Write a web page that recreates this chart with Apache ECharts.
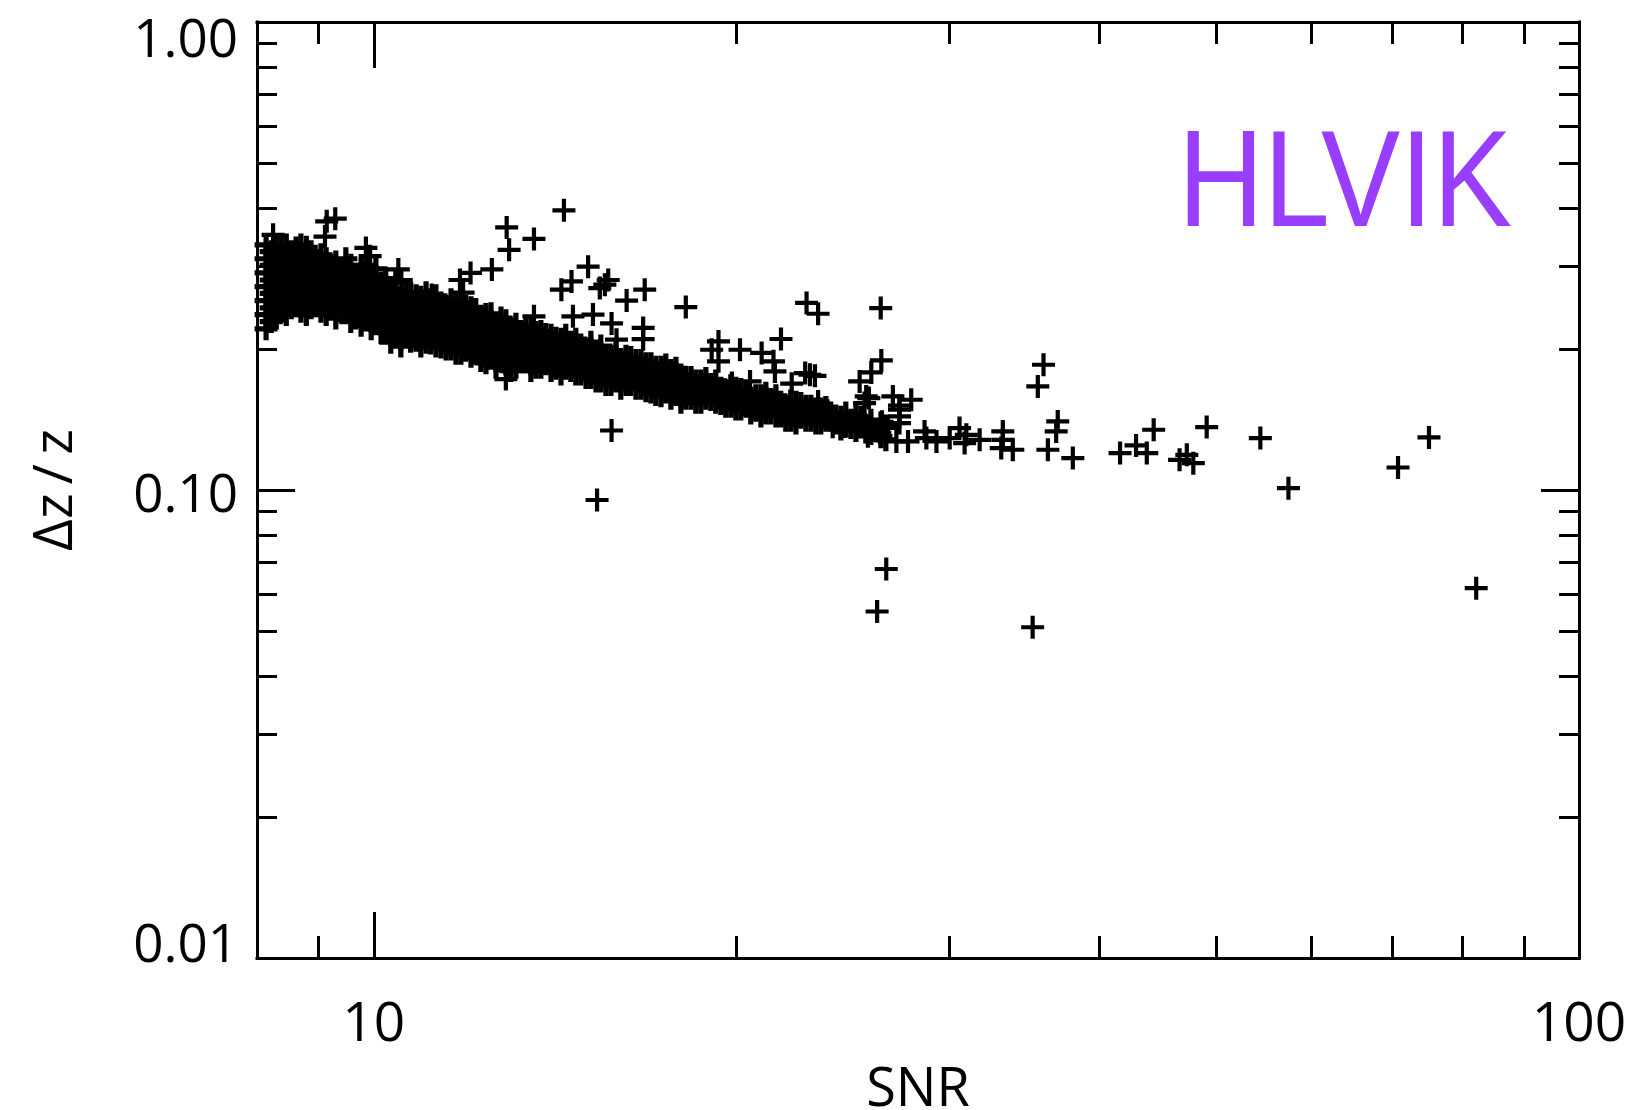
<!DOCTYPE html>
<html><head><meta charset="utf-8">
<script src="https://cdn.jsdelivr.net/npm/echarts@6/dist/echarts.min.js"></script>
<style>html,body{margin:0;padding:0;background:#fff}#c{width:1634px;height:1110px}</style>
</head><body><div id="c"></div>
<script>
// ---- data ----
const bandSNR = [8.14,8.22,8.30,8.38,8.46,8.54,8.62,8.70,8.79,8.87,
8.95,9.04,9.13,9.21,9.30,9.39,9.48,9.57,9.66,9.76,
9.85,9.95,10.04,10.14,10.23,10.33,10.43,10.53,10.63,10.73,
10.84,10.94,11.05,11.15,11.26,11.37,11.48,11.59,11.70,11.81,
11.92,12.04,12.15,12.27,12.39,12.51,12.63,12.75,12.87,12.99,
13.12,13.24,13.37,13.50,13.63,13.76,13.89,14.03,14.16,14.30,
14.43,14.57,14.71,14.85,15.00,15.14,15.29,15.43,15.58,15.73,
15.88,16.03,16.19,16.34,16.50,16.66,16.82,16.98,17.14,17.31,
17.47,17.64,17.81,17.98,18.15,18.33,18.50,18.68,18.86,19.04,
19.22,19.41,19.59,19.78,19.97,20.16,20.36,20.55,20.75,20.95,
21.15,21.35,21.56,21.76,21.97,22.18,22.40,22.61,22.83,23.05,
23.27,23.49,23.72,23.94,24.17,24.41,24.64,24.88,25.12,25.36,
25.60,25.85,26.09,26.35,26.60];
const bandDZ = [
[.334,.312,.291,.272,.254,.237,.221],[.323,.302,.281,.263,.245,.229],[.329,.307,.286,.267,.250,.233],[.334,.315,.296,.277,.258,.241],
[.334,.312,.291,.272,.254,.237],[.323,.302,.281,.263,.245],[.329,.307,.286,.267,.250],[.334,.318,.299,.277,.258,.241],
[.330,.312,.291,.272,.254,.237],[.323,.302,.281,.263,.245],[.307,.286,.267,.250],[.318,.296,.277,.261,.241],
[.312,.291,.272,.254,.237],[.302,.281,.263,.245],[.307,.286,.267,.250,.233],[.296,.277,.258,.241],
[.312,.291,.272,.254,.240],[.302,.281,.263,.245,.229],[.286,.267,.250,.233],[.296,.277,.258,.241,.225],
[.302,.291,.272,.254,.237],[.281,.263,.245,.229,.221],[.297,.286,.267,.247,.233],[.277,.258,.241,.225,.217],
[.283,.272,.254,.237,.221],[.263,.245,.229,.214,.207],[.278,.267,.250,.233,.217],[.258,.241,.225,.210,.203],
[.264,.254,.237,.221,.213],[.263,.245,.229,.216,.208],[.260,.250,.233,.217,.209],[.258,.241,.225,.210,.203],
[.264,.254,.237,.221,.207],[.255,.245,.229,.214,.206],[.260,.250,.233,.217,.203],[.251,.241,.223,.210,.202],
[.247,.237,.221,.207,.200],[.255,.245,.229,.214,.200],[.250,.233,.217,.203,.196],[.251,.241,.225,.210,.196],
[.247,.237,.221,.207,.199],[.245,.229,.211,.200,.193],[.243,.233,.217,.203,.196],[.235,.225,.210,.196,.189],
[.237,.221,.207,.193,.187],[.238,.229,.214,.200,.193],[.226,.217,.203,.189,.183],[.233,.225,.212,.196,.189],
[.230,.221,.207,.193,.186],[.222,.214,.200,.186,.180],[.226,.217,.203,.189,.183],[.218,.210,.196,.189],
[.221,.207,.195,.188],[.222,.214,.200,.186,.180],[.217,.203,.189,.183],[.218,.210,.196,.183],
[.215,.207,.193,.186],[.214,.200,.186,.180],[.211,.203,.189,.182],[.210,.196,.183,.177],
[.214,.207,.193,.182],[.207,.200,.186,.180],[.210,.203,.189,.177],[.204,.196,.183,.177],
[.200,.193,.180,.174],[.207,.200,.186,.174],[.197,.189,.177,.171],[.203,.196,.183,.171],
[.193,.180,.168],[.193,.186,.174,.168],[.196,.189,.177,.171],[.190,.183,.171,.165],
[.193,.180,.168],[.192,.186,.174,.168],[.189,.177,.165],[.189,.183,.171,.165],
[.186,.180,.168,.163],[.186,.174,.162],[.183,.177,.165,.160],[.183,.171,.159],
[.185,.180,.168,.162],[.180,.174,.162,.157],[.182,.177,.165,.160],[.176,.171,.159,.154],
[.174,.168,.157],[.174,.162,.157],[.171,.165,.154],[.171,.159,.154],
[.173,.168,.157],[.168,.162,.156],[.171,.165,.154],[.165,.159,.153],
[.163,.157,.151],[.167,.162,.151],[.165,.154,.149],[.164,.159,.149],
[.162,.157,.151],[.157,.151,.146],[.159,.154,.148],[.159,.149,.144],
[.161,.157,.146],[.156,.151,.146],[.159,.154,.144],[.154,.149,.144],
[.151,.146,.141],[.155,.151,.141],[.154,.144,.139],[.153,.149,.143],
[.151,.146,.141],[.151,.141],[.149,.144,.139],[.149,.139],
[.150,.146,.141],[.146,.141],[.144,.139],[.143,.139,.135],
[.146,.137],[.141,.136],[.144,.134],[.143,.139],
[.137,.133],[.141,.132],[.134],[.139,.130],[.137,.128]];
const outSNR = [9.14,9.29,9.11,8.25,9.85,9.93,10.48,10.54,12.89,12.95,13.58,14.38,12.53,12.03,11.79,11.86,11.17,
15.06,14.59,14.31,15.65,15.40,16.21,16.78,14.63,15.20,15.75,13.58,15.90,16.73,16.73,12.87,15.75,15.55,
18.15,22.86,23.37,26.34,19.32,19.07,20.13,20.98,21.77,21.46,19.32,21.52,22.22,22.80,23.23,
26.37,25.87,25.30,25.62,26.96,27.92,27.30,23.37,24.03,25.64,22.57,23.53,19.82,20.52,23.01,
25.75,27.30,25.54,27.30,27.30,24.59,25.15,25.4,25.9,26.3,26.7,25.7,26.4,
27.14,27.75,28.64,28.74,29.30,30.05,30.62,30.92,31.02,31.82,33.26,33.26,33.16,33.90,
35.56,35.95,36.94,36.83,36.25,38.02,41.61,42.90,43.79,44.37,46.62,47.86,47.27,49.10,
54.40,57.40,70.77,75.08,26.62,26.16,35.21,82.17,15.32];
const outDZ = [0.375,0.380,0.348,0.351,0.329,0.316,0.296,0.281,0.364,0.326,0.344,0.396,0.296,0.291,0.281,0.264,0.261,
0.300,0.279,0.268,0.281,0.270,0.254,0.268,0.235,0.237,0.227,0.235,0.2095,0.222,0.210,0.1726,0.134,0.2746,
0.246,0.251,0.238,0.2447,0.2077,0.1994,0.1994,0.1963,0.2102,0.1883,0.1883,0.1792,0.1687,0.1778,0.1754,
0.1892,0.1783,0.1706,0.1585,0.1585,0.1559,0.1484,0.1546,0.1365,0.1365,0.1463,0.1463,0.1693,0.1706,0.1763,
0.1572,0.1514,0.1534,0.1436,0.1390,0.1367,0.1367,0.1378,0.1345,0.1325,0.1358,0.1302,0.1399,
0.1270,0.1270,0.1334,0.1291,0.1270,0.1291,0.1356,0.1260,0.1312,0.1280,0.1334,0.1280,0.1229,0.1219,
0.1665,0.1852,0.1401,0.1334,0.1219,0.1170,0.1199,0.1245,0.1199,0.1345,0.1160,0.1141,0.1189,0.1363,
0.1291,0.1009,0.1117,0.1295,0.0678,0.0550,0.0509,0.0617,0.0952];
const xMinorTicks = [9,20,30,40,50,60,70,80,90];
const yMinorTicks = [0.02,0.03,0.04,0.05,0.06,0.07,0.08,0.09,0.2,0.3,0.4,0.5,0.6,0.7,0.8,0.9];
const yTickText = ['0.01','0.10','1.00'];
const xTitle = 'SNR';
const yTitle = 'Δz\u2009/\u2009z';
const tagText = 'HLVIK';

// ---- build ----
const bandPoints = [];
bandSNR.forEach((s, i) => bandDZ[i].forEach(d => bandPoints.push([s, d])));
const outPoints = outSNR.map((s, i) => [s, outDZ[i]]);

const FONT = '"Open Sans", "Liberation Sans", sans-serif';
// plus marker drawn in a 23x23 box
const PLUS = 'path://M9.4,0H13.6V9.4H23V13.6H13.6V23H9.4V13.6H0V9.4H9.4Z';
const PLUS_DENSE = 'path://M8.9,0H14.1V8.9H23V14.1H14.1V23H8.9V14.1H0V8.9H8.9Z';
const BLK = '#000';
const lineOn = {show: true, onZero: false, lineStyle: {color: BLK, width: 3, cap: 'square'}};
const lineOff = {show: false, onZero: false};
const isDecade = v => Math.abs(Math.log10(v) - Math.round(Math.log10(v))) < 1e-6;

function xLog(pos, showLabel) {
  return {
    type: 'log', logBase: 10, min: 8, max: 100, position: pos, gridIndex: 0,
    axisLine: lineOn,
    axisTick: {show: true, inside: true, length: 46, lineStyle: {color: BLK, width: 3}},
    axisLabel: showLabel ? {
      show: true, margin: 40, color: BLK, fontFamily: FONT, fontSize: 55,
      showMinLabel: true, showMaxLabel: true,
      formatter: v => isDecade(v) ? String(Math.round(v)) : ''
    } : {show: false},
    splitLine: {show: false}, minorTick: {show: false}, minorSplitLine: {show: false},
    name: showLabel ? xTitle : '', nameLocation: 'middle', nameGap: 106,
    nameTextStyle: {color: BLK, fontFamily: FONT, fontSize: 54}
  };
}
function xMinor(pos) {
  return {
    type: 'value', min: Math.log10(8), max: 2, position: pos, gridIndex: 0,
    axisLine: lineOff, axisLabel: {show: false}, splitLine: {show: false},
    axisTick: {show: true, inside: true, length: 22, customValues: xMinorTicks.map(Math.log10),
      lineStyle: {color: BLK, width: 3}}
  };
}
function yLog(pos, showLabel) {
  return {
    type: 'log', logBase: 10, min: 0.01, max: 1, position: pos, gridIndex: 0,
    axisLine: lineOn,
    axisTick: {show: true, inside: true, length: 38, lineStyle: {color: BLK, width: 3}},
    axisLabel: showLabel ? {
      show: true, margin: 19, color: BLK, fontFamily: FONT, fontSize: 53,
      showMinLabel: true, showMaxLabel: true,
      formatter: v => {
        if (!isDecade(v)) return '';
        const r = Math.round(Math.log10(v));
        if (r === 0) return '{t|' + yTickText[2] + '}';
        if (r === -2) return '{b|' + yTickText[0] + '}';
        return '{m|' + yTickText[1] + '}';
      },
      rich: {
        t: {padding: [40, 0, 0, 0], fontFamily: FONT, fontSize: 53, color: BLK},
        b: {padding: [0, 0, 22, 0], fontFamily: FONT, fontSize: 53, color: BLK},
        m: {padding: [14, 0, 0, 0], fontFamily: FONT, fontSize: 53, color: BLK}
      }
    } : {show: false},
    splitLine: {show: false}, minorTick: {show: false}, minorSplitLine: {show: false},
    name: showLabel ? yTitle : '', nameLocation: 'middle', nameGap: 173, nameRotate: 90,
    nameTextStyle: {color: BLK, fontFamily: FONT, fontSize: 55}
  };
}
function yMinor(pos) {
  return {
    type: 'value', min: -2, max: 0, position: pos, gridIndex: 0,
    axisLine: lineOff, axisLabel: {show: false}, splitLine: {show: false},
    axisTick: {show: true, inside: true, length: 20, customValues: yMinorTicks.map(Math.log10),
      lineStyle: {color: BLK, width: 3}}
  };
}

const chart = echarts.init(document.getElementById('c'), null, {renderer: 'canvas'});
chart.setOption({
  animation: false,
  backgroundColor: '#fff',
  grid: {left: 257, right: 55, top: 22, bottom: 152, containLabel: false, outerBoundsMode: 'none'},
  xAxis: [xLog('bottom', true), xMinor('bottom'), xLog('top', false), xMinor('top')],
  yAxis: [yLog('left', true), yMinor('left'), yLog('right', false), yMinor('right')],
  series: [{
    type: 'scatter', xAxisIndex: 0, yAxisIndex: 0,
    symbol: PLUS_DENSE, symbolSize: 23,
    itemStyle: {color: BLK, opacity: 1},
    emphasis: {disabled: true},
    data: bandPoints
  }, {
    type: 'scatter', xAxisIndex: 0, yAxisIndex: 0,
    symbol: PLUS, symbolSize: 23,
    itemStyle: {color: BLK, opacity: 1},
    emphasis: {disabled: true},
    data: outPoints
  }],
  graphic: [{
    type: 'text', x: 1178, y: 188, scaleX: 0.86, z: 10,
    style: {
      text: tagText, fill: '#993dff',
      fontFamily: '"Liberation Sans", Arial, sans-serif', fontSize: 138,
      align: 'left', verticalAlign: 'middle',
      textAlign: 'left', textVerticalAlign: 'middle'
    }
  }]
});
</script>
</body></html>
